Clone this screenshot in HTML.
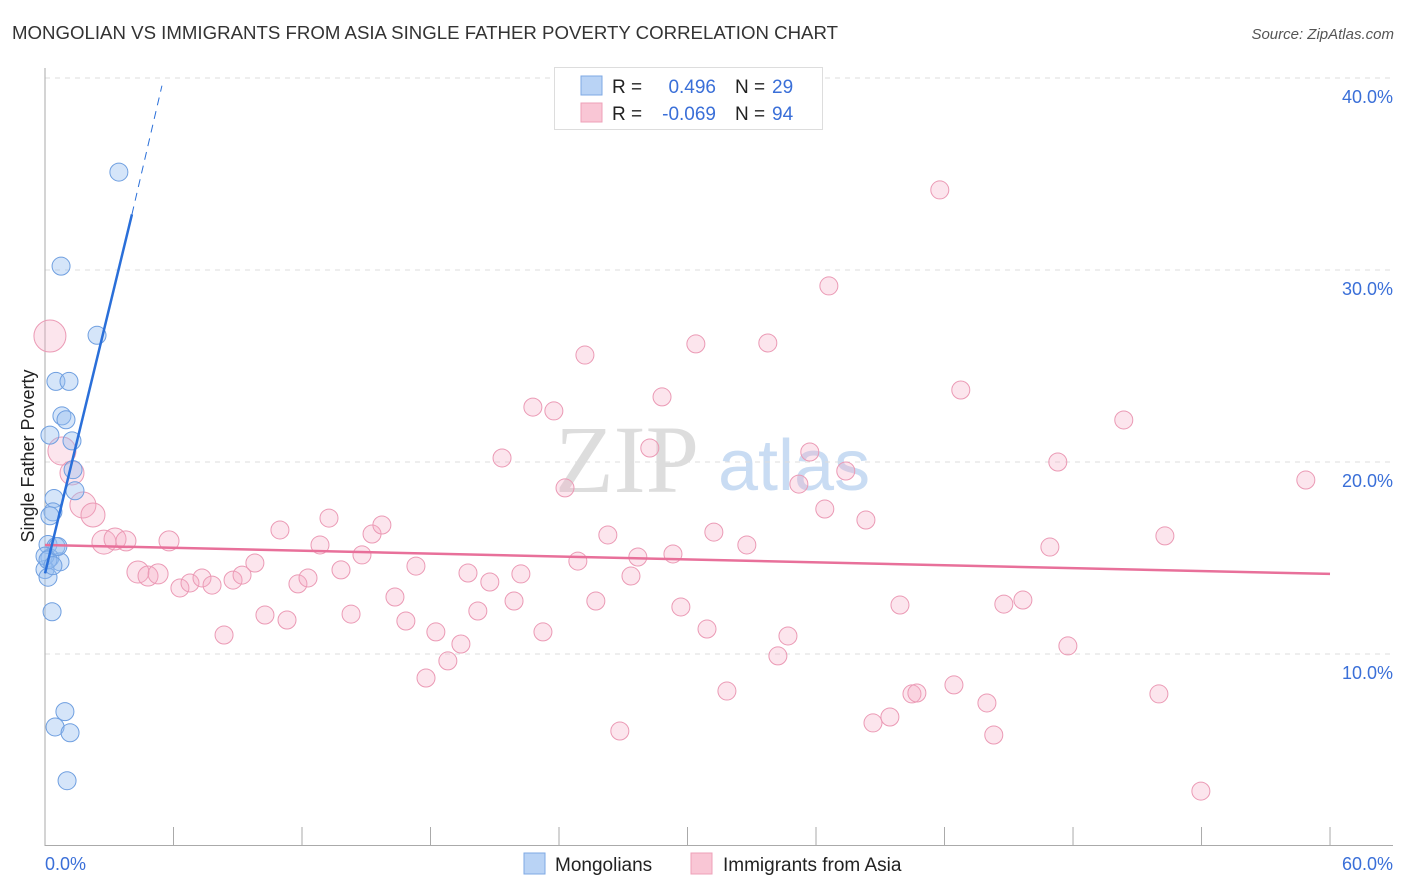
<!DOCTYPE html>
<html><head><meta charset="utf-8"><style>
body{margin:0;background:#fff;font-family:"Liberation Sans",sans-serif;}
svg{display:block}
</style></head><body>
<svg id="chart" width="1406" height="892" xmlns="http://www.w3.org/2000/svg">
<text x="12" y="39" font-size="18" fill="#333" textLength="826" lengthAdjust="spacingAndGlyphs">MONGOLIAN VS IMMIGRANTS FROM ASIA SINGLE FATHER POVERTY CORRELATION CHART</text>
<text x="1394" y="39" font-size="15" fill="#555" font-style="italic" text-anchor="end">Source: ZipAtlas.com</text>
<g>
<text x="555" y="492" font-size="96" font-family="Liberation Serif,serif" fill="#ddd">ZIP</text>
<text x="718" y="490" font-size="72" fill="#c9dcf3">atlas</text>
</g>
<g id="grid"></g>
<g id="axes"></g>
<g id="pink"></g>
<g id="blue"></g>
<g id="trends"></g>
<text transform="translate(34,456) rotate(-90)" font-size="18" fill="#222" text-anchor="middle">Single Father Poverty</text>
<text x="45" y="870" font-size="18" fill="#3a6fd8">0.0%</text>
<text x="1393" y="870" font-size="18" fill="#3a6fd8" text-anchor="end">60.0%</text>
<g>
<rect x="554.5" y="67.5" width="268" height="62" fill="#fff" stroke="#ddd"/>
<rect x="581" y="76" width="21" height="19" fill="#b9d3f5" stroke="#7ea8e4"/>
<rect x="581" y="103" width="21" height="19" fill="#f9c6d5" stroke="#eea0b8"/>
<text x="612" y="93" font-size="19" fill="#222">R =</text><text x="716" y="93" font-size="19" fill="#3a6fd8" text-anchor="end">0.496</text>
<text x="735" y="93" font-size="19" fill="#222">N =</text><text x="772" y="93" font-size="19" fill="#3a6fd8">29</text>
<text x="612" y="120" font-size="19" fill="#222">R =</text><text x="716" y="120" font-size="19" fill="#3a6fd8" text-anchor="end">-0.069</text>
<text x="735" y="120" font-size="19" fill="#222">N =</text><text x="772" y="120" font-size="19" fill="#3a6fd8">94</text>
</g>
<g>
<rect x="524" y="853" width="21" height="21" fill="#b9d3f5" stroke="#7ea8e4"/>
<text x="555" y="871" font-size="19" fill="#222">Mongolians</text>
<rect x="691" y="853" width="21" height="21" fill="#f9c6d5" stroke="#eea0b8"/>
<text x="723" y="871" font-size="19" fill="#222">Immigrants from Asia</text>
</g>
</svg>
<script>
const yTicks=[10,20,30,40];
const yTickLabels=["10.0%","20.0%","30.0%","40.0%"];
const xTicks=[0,6,12,18,24,30,36,42,48,54,60];
const blueX=[3.45,0.75,2.43,0.51,1.12,0.79,0.98,0.23,1.26,1.31,1.4,0.42,0.37,0.23,0.14,0.51,0.23,0.7,0,0.14,0.33,0.93,0.47,1.17,1.03,0,0.14,0.6,0.37];
const blueY=[35.1,30.2,26.6,24.2,24.2,22.4,22.2,21.4,21.1,19.6,18.5,18.1,17.4,17.2,15.7,15.6,15.0,14.8,14.4,14.0,12.2,7.0,6.2,5.9,3.4,15.1,14.9,15.6,14.6];
const pinkX=[0.23,0.79,1.26,1.77,2.24,2.75,3.27,3.78,5.79,4.34,4.81,5.28,6.3,6.77,7.33,7.8,8.78,9.2,8.36,9.8,10.27,10.97,11.3,11.81,12.28,12.84,13.26,13.82,14.29,14.8,15.27,15.73,16.34,16.85,17.32,17.79,18.25,18.81,19.42,19.75,20.21,20.77,21.34,21.9,22.22,22.78,23.25,23.76,24.28,24.88,25.21,25.72,26.28,26.84,27.36,27.68,28.24,28.81,29.32,29.69,30.39,30.91,31.23,31.84,32.77,33.75,34.22,34.69,35.2,35.71,36.41,36.6,37.39,38.33,38.66,39.45,39.92,40.48,40.71,41.78,42.44,42.76,43.98,44.3,44.77,45.66,46.92,47.29,47.76,50.37,52.01,52.29,53.97,58.87];
const pinkY=[26.56,20.57,19.43,17.76,17.24,15.83,15.99,15.89,15.89,14.27,14.06,14.17,13.44,13.7,13.96,13.59,13.85,14.11,10.99,14.74,12.03,16.46,11.77,13.65,13.96,15.68,17.08,14.38,12.08,15.16,16.25,16.72,12.97,11.72,14.58,8.75,11.15,9.64,10.52,14.22,12.24,13.75,20.21,12.76,14.17,22.86,11.15,22.66,18.65,14.84,25.57,12.76,16.2,5.99,14.06,15.05,20.73,23.39,15.21,12.45,26.15,11.3,16.35,8.07,15.68,26.2,9.9,10.94,18.85,20.52,17.55,29.17,19.53,16.98,6.41,6.72,12.55,7.92,7.97,34.17,8.39,23.75,7.45,5.78,12.6,12.81,15.57,20.0,10.42,22.19,7.92,16.15,2.86,19.06];
const pinkSize=[16,14,12,13,12,12,11,10,10,11,10,10];
const blueTrend=[[0,14.2],[4.06,32.9]];
const blueTrendExt=[[4.06,32.9],[5.46,39.6]];
const pinkTrend=[[0,15.68],[60,14.17]];
const NS="http://www.w3.org/2000/svg";
const sx=v=>45+v*21.417, sy=v=>846-v*19.2;
function mk(tag,parent,attrs){const e=document.createElementNS(NS,tag);for(const k in attrs)e.setAttribute(k,attrs[k]);parent.appendChild(e);return e;}
const grid=document.getElementById('grid'),axes=document.getElementById('axes');
yTicks.forEach((t,i)=>{
 const l=mk('line',grid,{x1:45,x2:1393,y1:sy(t),y2:sy(t),stroke:'#ddd','stroke-dasharray':'5,5'});
 
 
 const tx=mk('text',axes,{x:1393,y:sy(t)+25,'font-size':18,fill:'#3a6fd8','text-anchor':'end'});
 tx.textContent=yTickLabels[i];
 
 
});
const ya=mk('line',axes,{x1:45,x2:45,y1:68,y2:846,stroke:'#aaa'});


const xa=mk('line',axes,{x1:45,x2:1393,y1:845.5,y2:845.5,stroke:'#aaa'});


xTicks.forEach(t=>{const l=mk('line',axes,{x1:sx(t),x2:sx(t),y1:827,y2:846,stroke:'#aaa'});
 
 });
const pg=document.getElementById('pink');
pinkX.forEach((x,i)=>{const c=mk('circle',pg,{cx:sx(x),cy:sy(pinkY[i]),r:pinkSize[i]||9,fill:'rgba(245,170,195,0.3)',stroke:'#eb9ab5','stroke-width':1});
 
 });
const bg=document.getElementById('blue');
blueX.forEach((x,i)=>{const c=mk('circle',bg,{cx:sx(x),cy:sy(blueY[i]),r:9,fill:'rgba(150,190,240,0.4)',stroke:'#6f9fe0','stroke-width':1});
 
 });
const tg=document.getElementById('trends');
const pt=mk('line',tg,{x1:sx(pinkTrend[0][0]),y1:sy(pinkTrend[0][1]),x2:sx(pinkTrend[1][0]),y2:sy(pinkTrend[1][1]),stroke:'#e8709a','stroke-width':2.5});


const bt=mk('line',tg,{x1:sx(blueTrend[0][0]),y1:sy(blueTrend[0][1]),x2:sx(blueTrend[1][0]),y2:sy(blueTrend[1][1]),stroke:'#2a6fd9','stroke-width':2.5});


const be=mk('line',tg,{x1:sx(blueTrendExt[0][0]),y1:sy(blueTrendExt[0][1]),x2:sx(blueTrendExt[1][0]),y2:sy(blueTrendExt[1][1]),stroke:'#2a6fd9','stroke-width':1,'stroke-dasharray':'8,6'});


</script>
</body></html>
